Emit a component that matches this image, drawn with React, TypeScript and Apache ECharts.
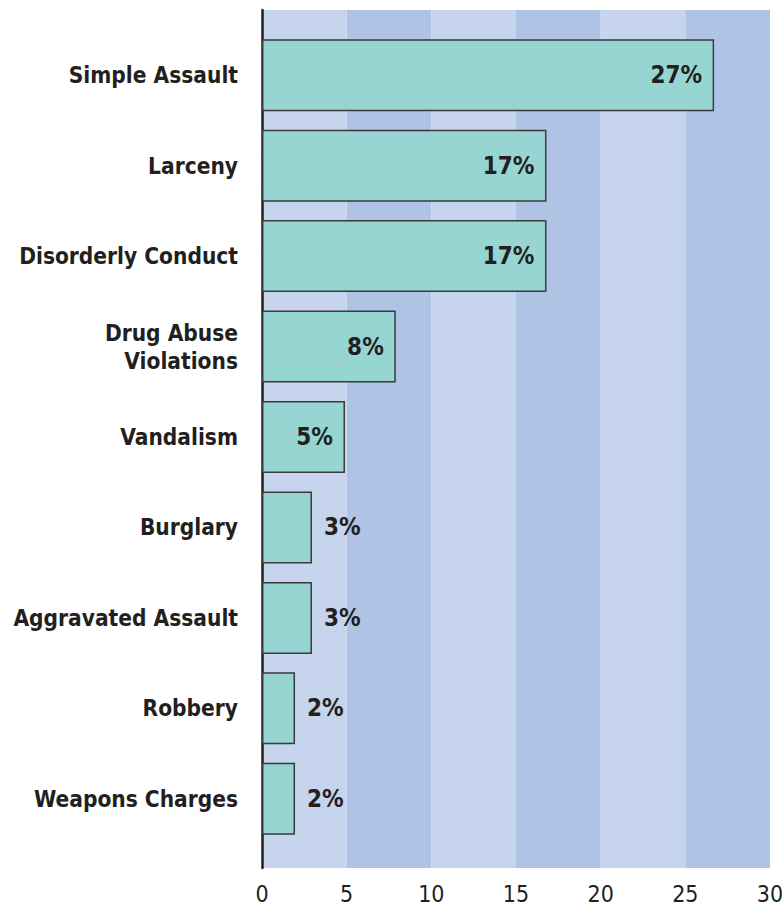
import React, { useEffect, useRef } from "react";
import * as echarts from "echarts";

const categories = [
  "Simple Assault",
  "Larceny",
  "Disorderly Conduct",
  "Drug Abuse\nViolations",
  "Vandalism",
  "Burglary",
  "Aggravated Assault",
  "Robbery",
  "Weapons Charges",
];
const values = [26.7, 16.8, 16.8, 7.9, 4.9, 2.95, 2.95, 1.95, 1.95];
const valueLabels = ["27%", "17%", "17%", "8%", "5%", "3%", "3%", "2%", "2%"];
const insideFlags = [true, true, true, true, true, false, false, false, false];
const xTicks = [0, 5, 10, 15, 20, 25, 30];

const FONT = "'Liberation Sans Narrow', 'DejaVu Sans Condensed', 'Roboto Condensed', Arial, sans-serif";
const TEXT = "#231f20";

export default function App() {
  const ref = useRef<HTMLDivElement>(null);
  useEffect(() => {
    if (!ref.current) return;
    const chart = echarts.init(ref.current, null, { renderer: "svg" });
    chart.setOption({
      animation: false,
      grid: [
        { left: 262, right: 12, top: 10, bottom: 40, outerBoundsMode: "none", containLabel: false },
        { left: 262, right: 12, top: 30, bottom: 64, outerBoundsMode: "none", containLabel: false },
      ],
      xAxis: [
        {
          gridIndex: 0,
          type: "value",
          min: xTicks[0],
          max: xTicks[xTicks.length - 1],
          interval: 5,
          axisLine: { show: false },
          axisTick: { show: false },
          splitLine: { show: false },
          splitArea: { show: true, areaStyle: { color: ["#c6d4ee", "#afc4e5"] } },
          axisLabel: { color: TEXT, fontSize: 23, fontFamily: FONT, margin: 14 },
        },
        {
          gridIndex: 1,
          type: "value",
          min: 0,
          max: 30,
          show: false,
        },
      ],
      yAxis: [
        {
          gridIndex: 0,
          type: "value",
          min: 0,
          max: 1,
          axisLine: { show: true, onZero: false, lineStyle: { color: "#231f20", width: 2.5 } },
          axisTick: { show: false },
          axisLabel: { show: false },
          splitLine: { show: false },
        },
        {
          gridIndex: 1,
          type: "category",
          data: categories,
          inverse: true,
          axisLine: { show: false },
          axisTick: { show: false },
          axisLabel: {
            color: TEXT,
            fontSize: 22.5,
            fontWeight: "bold",
            fontFamily: FONT,
            margin: 24,
            lineHeight: 28,
            align: "right",
          },
        },
      ],
      series: [
        {
          type: "bar",
          xAxisIndex: 1,
          yAxisIndex: 1,
          barWidth: 72,
          data: values.map((v, i) => ({
            value: v,
            label: {
              show: true,
              position: insideFlags[i] ? "insideRight" : "right",
              distance: 12,
              formatter: () => valueLabels[i],
              color: TEXT,
              fontSize: 24,
              fontWeight: "bold",
              fontFamily: FONT,
            },
          })),
          itemStyle: { color: "#97d5d3", borderColor: "#3a3a3a", borderWidth: 1.5 },
        },
      ],
    });
    return () => chart.dispose();
  }, []);
  return (
    <div
      ref={ref}
      style={{ position: "fixed", left: 0, top: 0, width: 782, height: 908, background: "#fff" }}
    />
  );
}
